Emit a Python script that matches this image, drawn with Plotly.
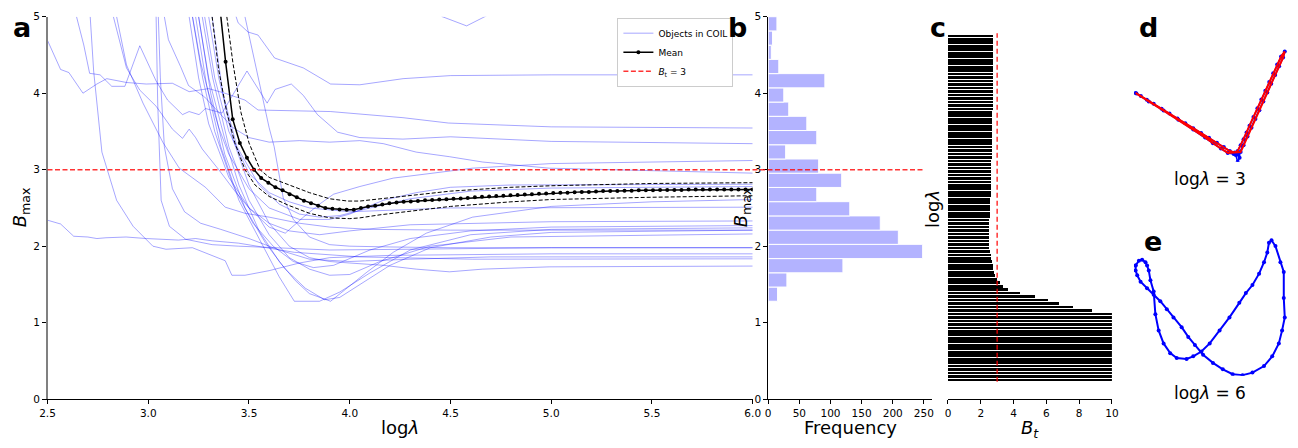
import numpy as np
import plotly.graph_objects as go

W, H = 1298, 448

# ---------------- data ----------------
log_lambda = np.linspace(2.5, 6.0, 100)

# mean B_max over objects (values above the plotted range shown capped at 10)
mean_B = [10.0, 10.0, 10.0, 10.0, 10.0, 10.0, 10.0, 10.0, 10.0, 10.0,
          10.0, 10.0, 10.0, 10.0, 10.0, 10.0, 10.0, 10.0, 10.0, 10.0,
          8.8, 7.6, 6.8, 6.1, 5.3, 4.41, 3.66, 3.35, 3.155, 3.00,
          2.89, 2.83, 2.77, 2.73, 2.68, 2.64, 2.595, 2.56, 2.53, 2.50,
          2.49, 2.48, 2.477, 2.477, 2.50, 2.52, 2.53, 2.545, 2.56, 2.57,
          2.58, 2.585, 2.59, 2.60, 2.605, 2.61, 2.615, 2.62, 2.625, 2.63,
          2.64, 2.645, 2.65, 2.655, 2.66, 2.665, 2.67, 2.675, 2.68, 2.685,
          2.69, 2.695, 2.70, 2.70, 2.705, 2.71, 2.71, 2.715, 2.72, 2.72,
          2.72, 2.725, 2.725, 2.73, 2.73, 2.73, 2.735, 2.735, 2.735, 2.735,
          2.74, 2.74, 2.74, 2.74, 2.74, 2.74, 2.74, 2.74, 2.74, 2.74]

upper_x = [3.39, 3.42, 3.46, 3.5, 3.555, 3.6, 3.7, 3.8, 3.9, 3.99, 4.05, 4.15, 4.3, 4.5, 4.8, 5.0, 5.5, 6.0]
upper_B = [5.0, 4.4, 3.75, 3.35, 3.0, 2.9, 2.8, 2.7, 2.62, 2.59, 2.59, 2.62, 2.66, 2.72, 2.77, 2.79, 2.82, 2.83]
lower_x = [3.317, 3.35, 3.39, 3.43, 3.48, 3.53, 3.6, 3.7, 3.8, 3.9, 4.0, 4.05, 4.15, 4.3, 4.5, 4.8, 5.0, 5.5, 6.0]
lower_B = [5.0, 4.3, 3.75, 3.35, 3.0, 2.8, 2.65, 2.53, 2.43, 2.37, 2.36, 2.37, 2.41, 2.46, 2.52, 2.58, 2.61, 2.64, 2.66]

# individual objects in COIL
obj01_x = [3.43, 3.446, 3.495, 3.545, 3.627, 3.77, 3.905, 4.05, 4.265, 4.5, 5.0, 6.0]
obj01_B = [5.05, 4.92, 4.80, 4.76, 4.46, 4.33, 4.12, 4.11, 4.19, 4.23, 4.24, 4.24]
obj02_x = [2.5, 2.565, 2.606, 2.676, 2.745, 2.794, 2.892, 2.99, 3.12, 3.203, 3.30, 3.38, 3.48, 3.545, 3.905, 4.264, 4.49, 5.0, 6.0]
obj02_B = [4.69, 4.31, 4.27, 4.0, 4.12, 4.19, 4.14, 4.12, 4.13, 4.02, 4.06, 4.0, 3.91, 3.78, 3.76, 3.68, 3.61, 3.56, 3.545]
obj03_x = [2.644, 2.68, 2.709, 2.761, 2.819, 2.884, 2.958, 3.039, 3.096, 3.17, 3.203, 3.252, 3.284, 3.366, 3.49, 3.59,
           3.63, 3.71, 3.77, 3.84, 3.94, 4.05, 4.264, 4.5, 5.0, 6.0]
obj03_B = [5.0, 4.63, 4.26, 4.24, 4.09, 4.09, 4.62, 4.16, 3.91, 3.72, 3.76, 3.72, 3.80, 3.74, 4.29, 3.87,
           4.05, 4.12, 3.97, 3.72, 3.49, 3.42, 3.40, 3.43, 3.37, 3.34]
obj04_x = [2.827, 2.892, 2.958, 3.039, 3.12, 3.17, 3.203, 3.235, 3.268, 3.35, 3.43, 3.5, 3.6, 3.68, 3.77, 3.85,
           3.92, 4.05, 4.216, 4.61, 5.0, 6.0]
obj04_B = [5.0, 4.33, 4.04, 3.83, 3.53, 3.41, 3.53, 3.42, 3.27, 3.0, 2.72, 2.50, 2.25, 2.17, 2.38, 2.55,
           2.68, 2.78, 2.89, 3.02, 3.08, 3.12]
obj05_x = [3.08, 3.10, 3.16, 3.20, 3.28, 3.35, 3.42, 3.5, 3.6, 3.75, 3.9, 4.05, 4.167, 4.33, 4.495, 4.66, 4.99, 6.0]
obj05_B = [5.0, 4.7, 4.35, 4.1, 3.95, 3.75, 3.55, 3.42, 3.36, 3.38, 3.36, 3.38, 3.34, 3.23, 3.17, 3.10, 3.02, 2.955]
obj06_x = [3.22, 3.26, 3.3, 3.35, 3.4, 3.5, 3.6, 3.75, 3.9, 4.0, 4.167, 4.33, 4.5, 4.8, 6.0]
obj06_B = [5.0, 4.4, 4.0, 3.55, 3.2, 2.75, 2.5, 2.35, 2.35, 2.42, 2.6, 2.70, 2.77, 2.80, 2.81]
obj07_x = [3.25, 3.3, 3.38, 3.45, 3.55, 3.65, 3.73, 3.80, 3.905, 4.003, 4.085, 4.216, 4.38, 4.61, 5.0, 5.5, 6.0]
obj07_B = [5.0, 4.2, 3.4, 2.8, 2.2, 1.8, 1.55, 1.38, 1.28, 1.49, 1.66, 1.92, 2.17, 2.38, 2.52, 2.58, 2.61]
obj08_x = [3.28, 3.33, 3.4, 3.5, 3.6, 3.7, 3.8, 4.0, 4.2, 4.5, 6.0]
obj08_B = [5.0, 4.2, 3.5, 2.95, 2.7, 2.58, 2.5, 2.45, 2.47, 2.5, 2.51]
obj09_x = [3.039, 3.047, 3.064, 3.105, 3.186, 3.317, 3.448, 3.6, 3.9, 4.3, 5.0, 6.0]
obj09_B = [5.01, 3.87, 2.6, 2.26, 2.09, 2.02, 2.0, 1.98, 1.95, 1.96, 1.98, 1.98]
obj10_x = [2.5, 2.565, 2.63, 2.70, 2.745, 2.79, 2.89, 2.99, 3.15, 3.235, 3.317, 3.448, 3.725, 4.05, 4.61, 6.0]
obj10_B = [2.34, 2.29, 2.13, 2.12, 2.10, 2.11, 2.12, 2.10, 2.08, 2.10, 2.07, 2.04, 1.92, 1.86, 1.83, 1.835]
obj11_x = [2.712, 2.729, 2.77, 2.843, 2.925, 3.023, 3.088, 3.219, 3.382, 3.415, 3.48, 3.6, 3.75, 3.9, 4.2, 5.0, 6.0]
obj11_B = [5.0, 4.29, 3.23, 2.6, 2.26, 2.0, 1.96, 1.98, 1.81, 1.62, 1.62, 1.68, 1.78, 1.85, 1.88, 1.90, 1.90]
obj12_x = [3.203, 3.25, 3.3, 3.4, 3.5, 3.6, 3.7, 3.85, 4.0, 4.3, 5.0, 6.0]
obj12_B = [5.0, 4.2, 3.6, 2.9, 2.5, 2.3, 2.2, 2.15, 2.2, 2.28, 2.32, 2.33]
obj13_x = [3.219, 3.27, 3.33, 3.42, 3.52, 3.62, 3.72, 3.82, 3.92, 4.1, 4.3, 4.6, 5.0, 6.0]
obj13_B = [5.0, 4.2, 3.5, 2.8, 2.3, 2.0, 1.8, 1.72, 1.75, 1.95, 2.1, 2.2, 2.25, 2.27]
obj14_x = [3.235, 3.29, 3.36, 3.45, 3.55, 3.65, 3.725, 3.85, 3.95, 4.1, 4.3, 4.6, 5.0, 6.0]
obj14_B = [5.0, 4.1, 3.3, 2.6, 2.1, 1.6, 1.28, 1.28, 1.4, 1.65, 1.95, 2.15, 2.22, 2.24]
obj15_x = [3.25, 3.31, 3.38, 3.48, 3.58, 3.68, 3.78, 3.875, 3.95, 4.05, 4.2, 4.4, 4.7, 5.0, 6.0]
obj15_B = [5.0, 4.0, 3.2, 2.5, 2.05, 1.7, 1.45, 1.3, 1.33, 1.5, 1.75, 1.98, 2.12, 2.18, 2.21]
obj16_x = [3.268, 3.32, 3.40, 3.5, 3.6, 3.7, 3.8, 3.9, 4.0, 4.15, 4.4, 4.8, 6.0]
obj16_B = [5.0, 4.2, 3.3, 2.6, 2.15, 1.85, 1.7, 1.62, 1.63, 1.8, 2.0, 2.12, 2.16]
obj17_x = [3.30, 3.35, 3.42, 3.5, 3.6, 3.7, 3.8, 3.9, 4.0, 4.167, 4.33, 4.495, 4.66, 4.99, 6.0]
obj17_B = [5.0, 4.2, 3.4, 2.8, 2.3, 2.0, 1.85, 1.8, 1.78, 1.75, 1.70, 1.665, 1.70, 1.73, 1.74]
obj18_x = [3.317, 3.37, 3.44, 3.55, 3.65, 3.75, 3.85, 3.95, 4.1, 4.3, 4.6, 5.0, 6.0]
obj18_B = [5.0, 4.0, 3.3, 2.8, 2.55, 2.42, 2.38, 2.40, 2.5, 2.62, 2.72, 2.76, 2.78]
obj19_x = [3.48, 3.53, 3.57, 3.60, 3.625, 3.645, 3.67, 3.72, 3.8, 3.9, 4.0, 4.2, 4.5, 5.0, 6.0]
obj19_B = [5.0, 4.4, 3.9, 3.55, 3.3, 3.0, 2.63, 2.35, 2.12, 2.02, 2.0, 1.99, 1.98, 1.98, 1.98]
obj20_x = [4.2, 4.46, 4.58, 4.67, 5.0]
obj20_B = [5.6, 5.0, 4.88, 5.0, 5.5]
obj21_x = [2.843, 2.892, 2.974, 3.072, 3.154, 3.284, 3.382, 3.48, 3.6, 3.75, 3.9, 4.1, 4.5, 6.0]
obj21_B = [5.0, 4.37, 3.87, 3.36, 3.02, 2.77, 2.51, 2.43, 2.38, 2.30, 2.25, 2.22, 2.21, 2.21]
obj22_x = [3.05, 3.06, 3.08, 3.12, 3.18, 3.26, 3.36, 3.5, 3.65, 3.8, 4.0, 4.3, 4.7, 6.0]
obj22_B = [5.0, 4.2, 3.3, 2.75, 2.45, 2.3, 2.22, 2.1, 1.95, 1.83, 1.8, 1.83, 1.86, 1.86]

# histogram of B_max (panel b)
hist_edges = [1.28, 1.466, 1.652, 1.838, 2.024, 2.21, 2.396, 2.582, 2.768, 2.954, 3.14,
              3.326, 3.512, 3.698, 3.884, 4.07, 4.256, 4.442, 4.628, 4.814, 5.0]
hist_counts = [15, 30, 120, 248, 209, 180, 131, 78, 118, 81, 28, 78, 62, 33, 25, 91, 17, 5, 7, 14]

Bt_threshold = 3

# 2-D embeddings (panels d, e)
d_out_x = [1.7, 7, 13, 20, 28, 36, 44, 52, 60, 68, 76, 84, 91, 97, 102, 105, 108, 111, 114, 117,
           121, 125, 129, 133, 137, 141, 145, 149, 152.7, 151, 147, 143, 139, 135, 131, 127, 123, 119, 115, 111, 108]
d_out_y = [70.7, 67.5, 63.7, 59.5, 54.5, 49.5, 44.5, 39.5, 34.5, 29.5, 24.5, 19.5, 15, 11, 9.5, 11, 17, 23, 30, 37,
           46, 55, 64, 73, 82, 91, 100, 108, 113.3, 107, 98, 89, 80, 71, 62, 53, 44, 35, 26, 17, 10]
d_cluster_x = [106, 104, 107, 105, 103, 101]
d_cluster_y = [7, 9, 4, 0, 7, 8]
d_ret_x = [95, 88, 80, 72, 60, 45, 30, 15, 2.5]
d_ret_y = [9, 13.5, 19, 25, 33, 43, 52.5, 62, 70]

e_x = [1.7, 5, 8.3, 11.7, 13.3, 15, 16.7, 20, 21.7, 25, 30, 36.7, 43.3, 53.3, 60, 68.3, 76.7, 86.7, 96.7, 106.7,
       113.3, 120, 126.7, 131.7, 135, 136.7, 139.3, 143.3, 148.3, 151.7, 151.7, 152.7, 150, 146.7, 140, 131.7, 120,
       110, 100, 90, 80, 70, 61.7, 55, 48.3, 40, 33.3, 26.7, 20, 13.3, 6.7, 3.3, 1.7, 1.7]
e_y = [113.3, 118.3, 119.3, 116.7, 113.3, 108.3, 98.3, 86.7, 63.3, 46.7, 33.3, 23.3, 18.3, 17.3, 20, 25, 33.3, 46.7,
       60, 75, 85, 93.3, 105, 116.7, 126.7, 136.7, 139.3, 133.3, 116.7, 106.7, 80, 60, 46.7, 33.3, 20, 10, 3.3,
       0.7, 1.7, 6.7, 13.3, 21.7, 31.7, 40, 50, 60, 68.3, 76.7, 83.3, 90, 96.7, 103.3, 108.3, 113.3]

# ---------------- layout helpers ----------------
def fx(p):
    return p / W


def fy(p):
    return 1 - p / H


FONT = "DejaVu Sans"
LIGHT = "rgba(0,0,255,0.35)"
RED = "rgba(255,0,0,0.8)"

dom_a = [fx(40), fx(754)]
dom_b = [fx(769.7), fx(935.7)]
dom_c = [fx(951.7), fx(1117.7)]
dom_de_x = [fx(1140), 1.0]
dom_y = [fy(404), fy(11)]

fig = go.Figure()

objects = [(obj01_x, obj01_B), (obj02_x, obj02_B), (obj03_x, obj03_B), (obj04_x, obj04_B), (obj05_x, obj05_B),
           (obj06_x, obj06_B), (obj07_x, obj07_B), (obj08_x, obj08_B), (obj09_x, obj09_B), (obj10_x, obj10_B),
           (obj11_x, obj11_B), (obj12_x, obj12_B), (obj13_x, obj13_B), (obj14_x, obj14_B), (obj15_x, obj15_B),
           (obj16_x, obj16_B), (obj17_x, obj17_B), (obj18_x, obj18_B), (obj19_x, obj19_B), (obj20_x, obj20_B),
           (obj21_x, obj21_B), (obj22_x, obj22_B)]
for k, (ox, oy) in enumerate(objects):
    fig.add_trace(go.Scatter(x=ox, y=oy, mode="lines", line=dict(color=LIGHT, width=1),
                             name="Objects in COIL", showlegend=(k == 0), legendrank=1,
                             hoverinfo="skip", xaxis="x", yaxis="y"))

for bx, by in [(upper_x, upper_B), (lower_x, lower_B)]:
    fig.add_trace(go.Scatter(x=bx, y=by, mode="lines", line=dict(color="black", width=1, dash="4px,2px"),
                             showlegend=False, xaxis="x", yaxis="y"))

fig.add_trace(go.Scatter(x=log_lambda, y=mean_B, mode="lines+markers", name="Mean",
                         line=dict(color="black", width=1.5), marker=dict(color="black", size=4),
                         legendrank=2, xaxis="x", yaxis="y"))
fig.add_trace(go.Scatter(x=[None], y=[None], mode="lines", name="<i>B</i><sub>t</sub> = 3",
                         line=dict(color=RED, width=1.5, dash="5px,2.5px"), legendrank=3,
                         xaxis="x", yaxis="y"))

# panel b histogram
edges = np.array(hist_edges)
fig.add_trace(go.Bar(y=(edges[:-1] + edges[1:]) / 2, x=hist_counts, width=np.diff(edges), orientation="h",
                     marker=dict(color="#b3b3ff", line=dict(color="white", width=1)),
                     showlegend=False, xaxis="x2", yaxis="y2"))

# panel c bars
step = log_lambda[1] - log_lambda[0]
fig.add_trace(go.Bar(y=log_lambda, x=mean_B, width=step * 0.78, orientation="h",
                     marker=dict(color="black", line=dict(width=0)),
                     showlegend=False, xaxis="x3", yaxis="y3"))
fig.add_trace(go.Scatter(x=[Bt_threshold, Bt_threshold], y=[log_lambda[0] - step / 2, log_lambda[-1] + step / 2 + 0.01],
                         mode="lines", line=dict(color=RED, width=1.5, dash="5px,3px"),
                         showlegend=False, xaxis="x3", yaxis="y3"))

# panel d
blue_d_x = d_out_x + d_cluster_x + d_ret_x
blue_d_y = d_out_y + d_cluster_y + d_ret_y
fig.add_trace(go.Scatter(x=blue_d_x, y=blue_d_y, mode="lines+markers", line=dict(color="blue", width=1.5),
                         marker=dict(color="blue", size=4), showlegend=False, xaxis="x4", yaxis="y4"))
fig.add_trace(go.Scatter(x=d_out_x + d_ret_x, y=d_out_y + d_ret_y, mode="lines", line=dict(color="red", width=2),
                         showlegend=False, xaxis="x4", yaxis="y4"))
# panel e
fig.add_trace(go.Scatter(x=e_x, y=e_y, mode="lines+markers", line=dict(color="blue", width=2),
                         marker=dict(color="blue", size=4), showlegend=False, xaxis="x5", yaxis="y5"))

tickfont = dict(family=FONT, size=10.5, color="black")
ax = dict(showline=True, linecolor="black", linewidth=1, ticks="outside", ticklen=4, tickwidth=1,
          tickcolor="black", showgrid=False, zeroline=False, tickfont=tickfont, fixedrange=True)

fig.update_layout(
    width=W, height=H, autosize=False,
    margin=dict(l=0, r=0, t=0, b=0),
    paper_bgcolor="white", plot_bgcolor="white",
    font=dict(family=FONT, color="black"),
    bargap=0,
    xaxis=dict(ax, domain=dom_a, range=[2.5, 6.0], tickvals=[2.5, 3.0, 3.5, 4.0, 4.5, 5.0, 5.5, 6.0],
               ticktext=["2.5", "3.0", "3.5", "4.0", "4.5", "5.0", "5.5", "6.0"], anchor="y"),
    yaxis=dict(ax, domain=dom_y, range=[0, 5], tickvals=[0, 1, 2, 3, 4, 5], anchor="x",
               linecolor="#808080", linewidth=1.5),
    xaxis2=dict(ax, domain=dom_b, range=[0, 263.3], tickvals=[0, 50, 100, 150, 200, 250], anchor="y2"),
    yaxis2=dict(ax, domain=dom_y, range=[0, 5], tickvals=[0, 1, 2, 3, 4, 5], anchor="x2"),
    xaxis3=dict(ax, domain=dom_c, range=[0, 10], tickvals=[0, 2, 4, 6, 8, 10], anchor="y3"),
    yaxis3=dict(domain=dom_y, range=[2.305, 6.195], visible=False, anchor="x3", fixedrange=True),
    xaxis4=dict(domain=dom_de_x, range=[0, 158], visible=False, anchor="y4", fixedrange=True),
    yaxis4=dict(domain=[fy(160), fy(0)], range=[0, 160], visible=False, anchor="x4", fixedrange=True),
    xaxis5=dict(domain=dom_de_x, range=[0, 158], visible=False, anchor="y5", fixedrange=True),
    yaxis5=dict(domain=[fy(380), fy(220)], range=[0, 160], visible=False, anchor="x5", fixedrange=True),
    legend=dict(x=fx(617), y=fy(12), xanchor="left", yanchor="top", bgcolor="white",
                bordercolor="#cccccc", borderwidth=1, font=dict(family=FONT, size=9, color="black"),
                tracegroupgap=0, itemwidth=30),
)

# red threshold line across panels a and b
bx0, bx1 = dom_b
fig.add_shape(type="line", xref="paper", yref="y", x0=dom_a[0], x1=bx0 + (250 / 263.3) * (bx1 - bx0),
              y0=Bt_threshold, y1=Bt_threshold, line=dict(color=RED, width=1.5, dash="5px,2.5px"), layer="above")


def ann(text, x, y, size, angle=0, bold=False, xanchor="center"):
    fig.add_annotation(text=("<b>%s</b>" % text) if bold else text, x=fx(x), y=fy(y), xref="paper", yref="paper",
                       showarrow=False, textangle=angle, xanchor=xanchor, yanchor="middle",
                       font=dict(family=FONT, size=size, color="black"))


# panel letters
ann("a", 3, 22, 27, bold=True, xanchor="left")
ann("b", 727, 22, 27, bold=True, xanchor="left")
ann("c", 931, 22, 27, bold=True, xanchor="left")
ann("d", 1143, 22, 27, bold=True, xanchor="left")
ann("e", 1148, 242, 27, bold=True, xanchor="left")

# axis labels
ann("log<i>λ</i>", 397, 433, 18)
ann("Frequency", 852.7, 433, 18)
ann("<i>B</i><sub><i>t</i></sub>", 1034.7, 435, 18)
ann("<i>B</i><sub>max</sub>", 14, 207, 18, angle=-90)
ann("<i>B</i><sub>max</sub>", 744, 207, 18, angle=-90)
ann("log<i>λ</i>", 936, 208, 18, angle=-90)

# embedding captions
ann("log<i>λ</i> = 3", 1217, 178, 17)
ann("log<i>λ</i> = 6", 1217, 398, 17)

fig.write_html("out.html",
               config={"displayModeBar": False, "staticPlot": True},
               post_script="document.body.style.margin='0';document.body.style.padding='0';"
                           "document.documentElement.style.overflow='hidden';")
